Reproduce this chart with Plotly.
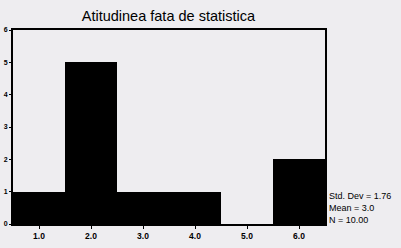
import plotly.graph_objects as go

categories = [1.0, 2.0, 3.0, 4.0, 5.0, 6.0]
counts = [1, 5, 1, 1, 0, 2]
x_tick_labels = ["1.0", "2.0", "3.0", "4.0", "5.0", "6.0"]
y_ticks = [0, 1, 2, 3, 4, 5, 6]
stats_lines = ["Std. Dev = 1.76", "Mean = 3.0", "N = 10.00"]
title = "Atitudinea fata de statistica"

bg = "#eeedf0"

fig = go.Figure(go.Bar(
    x=categories, y=counts, width=1.0,
    marker=dict(color="black", line=dict(color="black", width=0)),
))

fig.update_layout(
    width=401, height=248,
    margin=dict(l=13, r=76, t=30, b=24),
    paper_bgcolor=bg, plot_bgcolor=bg,
    showlegend=False,
    title=dict(text=title, x=0.42, xanchor="center", y=0.935, yanchor="middle",
               font=dict(family="Liberation Sans, Arial", size=14.5, color="black")),
    font=dict(family="Liberation Sans, Arial", color="black"),
    bargap=0,
)
fig.update_xaxes(
    range=[0.5, 6.5], tickvals=categories, ticktext=x_tick_labels,
    showgrid=False, zeroline=False, showline=True, linecolor="black", linewidth=2,
    mirror=True, ticks="outside", ticklen=3, tickcolor="black", automargin=False,
    tickfont=dict(size=8.5, family="Liberation Sans, Arial", weight="bold"),
)
fig.update_yaxes(
    range=[0, 6], tickvals=y_ticks, ticktext=[str(v) for v in y_ticks],
    showgrid=False, zeroline=False, showline=True, linecolor="black", linewidth=2,
    mirror=True, ticks="outside", ticklen=2, tickcolor="black", automargin=False,
    tickfont=dict(size=7, family="Liberation Sans, Arial", weight="bold"),
)
for i, line in enumerate(stats_lines):
    fig.add_annotation(
        text=line, xref="paper", yref="paper", x=1.008, xanchor="left",
        y=0.144 - i * 0.062, yanchor="middle", showarrow=False,
        font=dict(size=9, family="Liberation Sans, Arial", color="black"),
    )

fig.write_html("out.html")
